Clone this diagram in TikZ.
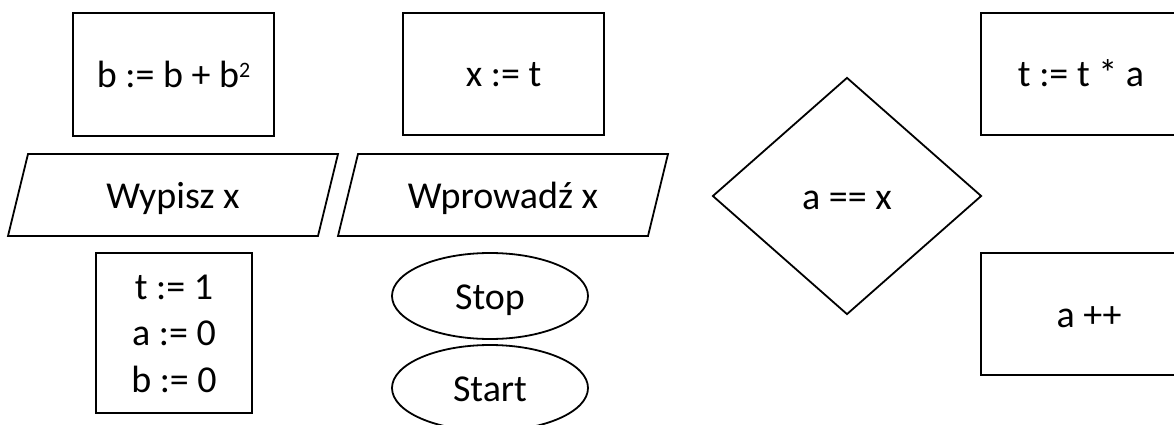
\documentclass[tikz,border=0pt]{standalone}
\usepackage{fontspec}
\setmainfont{Carlito}
\usetikzlibrary{shapes.geometric}
\begin{document}
\begin{tikzpicture}[x=1pt,y=-1pt,
  every node/.style={font=\fontsize{38}{46.5}\selectfont, line width=1.8pt, inner sep=0pt,
                     text height=26pt, text depth=0pt},
  box/.style={draw, rectangle},
  outline/.style={draw, line width=1.8pt, line join=miter},
  dec/.style={draw, diamond, minimum width=269pt, minimum height=237pt},
  term/.style={draw, ellipse, minimum width=196pt, minimum height=86pt}]
\useasboundingbox (0,0) rectangle (1174,425);
\clip (0,0) rectangle (1174,425);
\node[box, minimum width=201pt, minimum height=123pt] (bb) at (173.5,74.5) {b := b + b\raisebox{10pt}{\fontsize{22}{22}\selectfont 2}};
\node[box, minimum width=201pt, minimum height=122pt] (xt) at (503.5,74) {x := t};
\node[box, minimum width=200pt, minimum height=122pt] (tta) at (1081,74) {t := t * a};
\node[box, minimum width=216pt, minimum height=122pt] (app) at (1089,314) {a ++};
\node (wyp) at (173,195) {Wypisz x};
\draw[outline] ([shift={(-145,-41)}]wyp.center) -- ([shift={(165,-41)}]wyp.center)
  -- ([shift={(145,41)}]wyp.center) -- ([shift={(-165,41)}]wyp.center) -- cycle;
\node (wpr) at (503,195) {Wprowadź x};
\draw[outline] ([shift={(-145,-41)}]wpr.center) -- ([shift={(165,-41)}]wpr.center)
  -- ([shift={(145,41)}]wpr.center) -- ([shift={(-165,41)}]wpr.center) -- cycle;
\node[dec] (cmp) at (847,196) {a == x};
\node[box, align=center, text height=, text depth=, minimum width=156pt, minimum height=160pt] (init) at (174,333) {\rule{0pt}{26pt}t := 1\\a := 0\\b := 0};
\node[term] (stop) at (490,296) {Stop};
\node[term] (start) at (490,388) {Start};
\end{tikzpicture}
\end{document}
